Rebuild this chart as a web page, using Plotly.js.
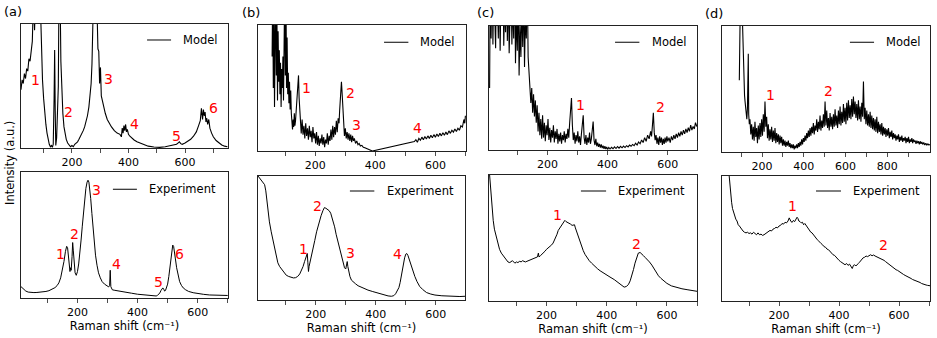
<!DOCTYPE html>
<html><head><meta charset="utf-8">
<script src="https://cdn.plot.ly/plotly-3.0.1.min.js"></script>
<style>html,body{margin:0;padding:0;background:#fff}#chart{width:937px;height:338px}</style>
</head><body><div id="chart"></div>
<script>
// ---------------- data (Raman shift in cm^-1, normalised intensity) ----------------
const aModelX = [20,24,28,32,36,40,44,48,52,56,60,64,68,72,76,80,84,88,92,96,100,104,108,112,116,120,124,128,131,134,137,139,141,143,146,149,152,155,158,161,164,168,172,176,180,185,190,195,200,205,210,215,220,225,230,235,240,245,250,255,260,265,268,271,274,277,280,283,286,289,292,295,298,301,304,308,312,318,325,332,340,350,360,370,375,378,381,384,387,390,393,396,400,405,412,420,430,440,455,470,490,510,530,550,560,570,575,580,585,590,600,610,620,630,640,648,654,658,662,665,668,671,674,677,680,684,688,694,700,710,720,730,740,750];
const aModelY = [0.47,0.55,0.52,0.60,0.56,0.64,0.62,0.72,0.70,0.80,0.86,1.2,0.95,1.3,1.1,1.4,1.3,1.2,0.72,0.55,0.40,0.28,0.19,0.12,0.07,0.03,0.01,0.02,0.005,0.03,0.4,0.79,0.3,0.02,0.08,0.35,0.5,1.5,1.3,0.7,0.45,0.28,0.17,0.11,0.07,0.04,0.02,0.01,0.02,0.01,0.03,0.04,0.05,0.07,0.09,0.11,0.14,0.17,0.21,0.26,0.33,0.43,0.52,0.68,0.9,1.3,1.6,1.2,1.4,1.1,0.8,0.78,0.52,0.65,0.42,0.38,0.33,0.28,0.23,0.2,0.17,0.14,0.12,0.11,0.09,0.16,0.12,0.18,0.14,0.19,0.13,0.15,0.11,0.095,0.08,0.065,0.05,0.04,0.025,0.015,0.008,0.005,0.01,0.02,0.025,0.03,0.04,0.05,0.035,0.03,0.04,0.055,0.07,0.095,0.13,0.18,0.22,0.32,0.23,0.31,0.26,0.29,0.21,0.24,0.19,0.23,0.16,0.12,0.09,0.06,0.04,0.025,0.015,0.01];

const aExpX = [12,20,28,36,45,55,65,75,85,95,105,115,125,132,138,144,150,155,160,164,167,170,173,175,177,179,182,184,186,189,192,196,200,204,208,212,216,220,224,228,232,235,238,241,244,248,252,256,260,265,270,276,282,290,298,304,307,309,311,313,316,322,330,345,360,380,400,420,440,455,462,466,470,474,478,481,484,487,490,493,496,500,504,508,511,514,517,520,523,526,530,535,540,546,552,560,570,585,600,620,640,660,680,700];
const aExpY = [0.09,0.07,0.055,0.047,0.044,0.043,0.044,0.045,0.048,0.052,0.058,0.067,0.082,0.098,0.12,0.16,0.22,0.29,0.37,0.41,0.40,0.33,0.26,0.21,0.24,0.22,0.33,0.44,0.38,0.25,0.2,0.18,0.21,0.27,0.35,0.46,0.57,0.68,0.78,0.87,0.92,0.935,0.92,0.87,0.79,0.67,0.54,0.43,0.34,0.26,0.2,0.16,0.13,0.11,0.095,0.088,0.1,0.22,0.09,0.07,0.065,0.062,0.058,0.05,0.045,0.038,0.03,0.024,0.018,0.015,0.016,0.02,0.028,0.04,0.06,0.075,0.08,0.07,0.055,0.06,0.08,0.11,0.17,0.25,0.33,0.39,0.42,0.41,0.37,0.31,0.24,0.17,0.13,0.1,0.08,0.065,0.052,0.042,0.035,0.029,0.024,0.022,0.02,0.02];

const bModelX = [56,58,60,62,64,66,68,70,72,74,76,78,80,82,84,86,88,90,92,94,96,98,100,102,104,106,108,110,112,114,116,118,120,122,124,126,128,130,132,134,136,138,140,142,144,146,148,150,153,156,159,162,165,168,171,174,177,180,183,186,189,192,195,198,201,204,207,210,213,216,219,222,225,228,231,234,237,240,243,246,249,252,255,258,261,264,267,270,273,276,279,281,283,285,287,289,291,293,295,297,300,303,306,309,312,315,318,321,324,327,330,334,338,342,346,350,355,360,365,370,375,380,385,390,530,535,540,545,550,555,560,565,570,575,580,585,590,595,600,605,610,615,620,625,630,635,640,645,650,655,660,665,670,675,680,685,690,695,698,700];
const bModelY = [0.75,1.3,0.5,1.2,0.35,0.9,1.4,0.6,1.1,0.4,0.95,0.55,0.8,0.45,0.7,0.35,0.65,0.5,0.75,0.4,0.85,1.3,0.6,1.4,0.5,0.9,0.45,0.62,0.38,0.55,0.33,0.48,0.3,0.22,0.17,0.25,0.19,0.3,0.2,0.24,0.33,0.4,0.48,0.52,0.6,0.42,0.3,0.22,0.14,0.25,0.13,0.2,0.1,0.22,0.12,0.18,0.09,0.2,0.11,0.16,0.07,0.19,0.1,0.14,0.06,0.15,0.05,0.12,0.04,0.1,0.06,0.13,0.05,0.11,0.03,0.09,0.06,0.14,0.05,0.12,0.08,0.17,0.09,0.2,0.11,0.19,0.13,0.24,0.15,0.26,0.22,0.32,0.42,0.5,0.55,0.47,0.38,0.26,0.17,0.12,0.18,0.1,0.15,0.09,0.14,0.08,0.13,0.07,0.12,0.08,0.1,0.06,0.08,0.05,0.06,0.04,0.045,0.03,0.025,0.02,0.015,0.01,0.005,0.0,0.075,0.09,0.07,0.1,0.085,0.11,0.09,0.115,0.095,0.12,0.1,0.125,0.105,0.13,0.11,0.135,0.115,0.14,0.12,0.145,0.125,0.15,0.13,0.16,0.14,0.165,0.15,0.175,0.155,0.18,0.165,0.2,0.19,0.25,0.22,0.28];

const bExpX = [8,14,19,25,30,34,37,41,46,52,58,63,68,74,80,86,94,102,110,119,126,133,140,147,153,158,163,167,170,172,174,176,178,182,187,192,197,203,208,213,218,224,229,234,240,245,250,254,258,263,268,274,280,286,291,296,300,303,305,307,310,314,319,325,333,341,350,360,374,390,408,425,441,452,460,466,472,477,481,486,491,496,500,503,507,512,518,524,530,537,546,556,569,583,597,620,650,680,697];
const bExpY = [1.0,0.98,0.965,0.95,0.93,0.88,0.82,0.72,0.63,0.55,0.48,0.42,0.36,0.3,0.27,0.25,0.225,0.2,0.19,0.18,0.178,0.18,0.19,0.21,0.24,0.27,0.31,0.34,0.36,0.375,0.3,0.23,0.27,0.31,0.36,0.42,0.48,0.55,0.6,0.64,0.68,0.72,0.745,0.74,0.73,0.72,0.7,0.67,0.63,0.59,0.53,0.47,0.42,0.36,0.3,0.26,0.25,0.28,0.31,0.27,0.22,0.19,0.16,0.145,0.13,0.115,0.105,0.095,0.08,0.068,0.055,0.042,0.033,0.03,0.035,0.05,0.075,0.1,0.14,0.21,0.28,0.34,0.37,0.375,0.36,0.32,0.27,0.23,0.19,0.15,0.11,0.085,0.06,0.048,0.04,0.034,0.03,0.028,0.03];

const cModelX = [8,10,13,16,19,22,25,28,31,34,37,40,43,46,49,52,55,58,61,64,67,70,73,76,79,82,85,88,91,94,97,100,103,106,109,112,115,118,121,124,127,130,133,136,139,142,145,148,151,154,157,160,163,166,169,172,175,178,181,184,187,190,193,196,199,202,205,208,211,214,217,220,223,226,229,232,235,238,241,244,247,250,253,256,259,262,265,268,271,274,277,280,283,286,289,292,295,298,301,304,307,310,313,316,319,322,325,328,331,334,337,340,343,346,349,352,355,358,361,364,367,370,373,376,379,382,385,388,391,394,397,400,404,408,413,418,423,428,433,438,443,448,453,458,463,468,473,478,483,488,493,498,503,508,513,518,523,528,533,538,543,546,549,552,555,558,561,564,567,570,573,576,579,582,585,588,591,594,597,600,604,608,612,616,620,624,628,632,636,640,644,648,652,656,660,664,668,672,676,680,684,688,692,696,700];
const cModelY = [0.5,1.3,0.9,1.5,0.85,1.4,1.1,0.82,1.5,1.2,0.9,1.4,0.8,1.3,1.0,1.5,0.84,1.2,0.95,1.4,0.88,1.3,0.78,1.1,1.4,0.85,1.2,0.9,1.5,0.7,1.1,0.8,1.3,0.6,1.0,0.75,1.2,0.83,1.3,0.67,1.1,0.9,1.4,0.75,0.62,0.55,0.38,0.5,0.3,0.45,0.27,0.4,0.22,0.36,0.15,0.3,0.12,0.25,0.09,0.28,0.1,0.22,0.07,0.2,0.12,0.25,0.08,0.18,0.06,0.16,0.1,0.2,0.06,0.15,0.09,0.17,0.05,0.13,0.07,0.14,0.05,0.12,0.08,0.15,0.06,0.13,0.09,0.17,0.1,0.22,0.3,0.42,0.2,0.08,0.14,0.05,0.12,0.07,0.15,0.06,0.11,0.04,0.13,0.2,0.28,0.1,0.05,0.12,0.04,0.1,0.06,0.14,0.05,0.09,0.16,0.23,0.08,0.04,0.09,0.03,0.06,0.025,0.05,0.02,0.045,0.015,0.035,0.01,0.03,0.008,0.025,0.005,0.02,0.008,0.022,0.01,0.025,0.012,0.028,0.015,0.03,0.018,0.032,0.02,0.035,0.025,0.04,0.03,0.045,0.035,0.055,0.04,0.065,0.05,0.08,0.06,0.1,0.07,0.12,0.09,0.15,0.11,0.2,0.3,0.14,0.08,0.12,0.05,0.1,0.04,0.11,0.06,0.1,0.04,0.09,0.05,0.1,0.06,0.11,0.07,0.1,0.06,0.11,0.08,0.12,0.09,0.13,0.1,0.14,0.11,0.15,0.12,0.16,0.13,0.17,0.14,0.18,0.15,0.2,0.16,0.19,0.17,0.22,0.19,0.21];

const cExpX = [11,14,17,20,23,27,33,38,44,50,56,62,67,72,78,83,87,91,95,100,105,111,116,120,125,130,135,140,145,150,155,160,165,170,173,175,180,185,190,195,200,206,211,217,222,226,231,235,239,244,250,255,258,261,265,270,275,280,285,290,293,296,300,305,311,317,322,328,335,342,350,360,370,378,390,400,411,425,439,450,458,465,472,478,484,489,494,500,505,511,517,522,528,535,542,550,558,565,572,580,590,600,615,633,650,667,685,700];
const cExpY = [1.0,0.9,0.81,0.72,0.64,0.57,0.51,0.46,0.41,0.38,0.36,0.335,0.32,0.31,0.305,0.31,0.32,0.31,0.3,0.31,0.305,0.315,0.31,0.32,0.315,0.31,0.315,0.32,0.325,0.33,0.335,0.34,0.345,0.35,0.38,0.35,0.36,0.37,0.385,0.395,0.41,0.42,0.43,0.445,0.46,0.48,0.51,0.53,0.56,0.58,0.6,0.62,0.635,0.64,0.63,0.625,0.615,0.61,0.6,0.6,0.605,0.58,0.55,0.52,0.48,0.44,0.4,0.37,0.34,0.32,0.3,0.275,0.255,0.24,0.22,0.205,0.19,0.17,0.146,0.125,0.11,0.115,0.13,0.16,0.2,0.25,0.3,0.35,0.38,0.385,0.375,0.36,0.345,0.33,0.31,0.285,0.25,0.22,0.2,0.18,0.16,0.14,0.12,0.106,0.097,0.09,0.083,0.077];

const dModelX = [91,93,96,99,102,105,108,110,113,116,118,121,124,127,130,132,134,136,139,142,146,150,154,158,162,166,170,174,178,182,186,190,194,198,202,206,210,214,218,222,226,230,234,238,242,246,250,254,258,262,266,270,274,278,282,286,290,294,298,302,306,310,314,318,322,326,330,334,338,342,346,350,354,358,362,366,370,374,378,382,386,390,394,398,402,406,410,414,418,422,426,430,434,438,442,446,450,454,458,462,466,470,474,478,482,486,490,494,498,502,506,510,514,518,522,526,530,534,538,542,546,550,554,558,562,566,570,574,578,582,586,590,594,598,602,606,610,614,618,622,626,630,634,638,642,646,650,654,658,662,666,670,674,678,682,686,690,694,698,702,706,710,714,718,722,726,730,734,738,742,746,750,754,758,762,766,770,774,778,782,786,790,794,798,802,806,810,814,818,822,826,830,834,838,842,846,850,854,858,862,866,870,874,878,882,886,890,894,898,902,906,910,914,918,922,926,930,934,938,942,946,950,954,958,962,966,970,975,980,985,990,995,1000,1005];
const dModelY = [0.57,1.5,1.2,1.6,1.3,1.1,0.85,0.68,0.55,0.45,0.41,0.33,0.3,0.26,0.35,0.5,0.78,0.3,0.22,0.26,0.14,0.22,0.1,0.2,0.09,0.24,0.12,0.19,0.07,0.21,0.1,0.23,0.12,0.26,0.13,0.3,0.16,0.4,0.2,0.28,0.11,0.22,0.09,0.18,0.1,0.2,0.08,0.17,0.09,0.19,0.07,0.15,0.08,0.14,0.06,0.13,0.07,0.12,0.05,0.1,0.05,0.09,0.04,0.08,0.05,0.09,0.04,0.07,0.03,0.06,0.03,0.06,0.02,0.05,0.03,0.06,0.03,0.07,0.04,0.08,0.05,0.1,0.06,0.11,0.08,0.13,0.09,0.15,0.11,0.17,0.12,0.19,0.13,0.2,0.15,0.23,0.14,0.21,0.17,0.26,0.16,0.24,0.18,0.29,0.17,0.25,0.19,0.3,0.2,0.4,0.21,0.33,0.19,0.27,0.17,0.31,0.2,0.28,0.18,0.3,0.2,0.34,0.21,0.29,0.19,0.33,0.22,0.36,0.21,0.32,0.23,0.38,0.24,0.35,0.22,0.39,0.25,0.41,0.27,0.37,0.26,0.42,0.28,0.44,0.3,0.4,0.27,0.38,0.25,0.41,0.26,0.36,0.24,0.39,0.28,0.56,0.26,0.35,0.22,0.33,0.21,0.3,0.2,0.32,0.19,0.29,0.18,0.27,0.17,0.26,0.16,0.28,0.15,0.24,0.16,0.22,0.14,0.23,0.13,0.2,0.14,0.19,0.12,0.18,0.13,0.19,0.11,0.16,0.12,0.17,0.1,0.15,0.11,0.14,0.09,0.13,0.1,0.14,0.08,0.12,0.09,0.13,0.08,0.11,0.09,0.12,0.07,0.11,0.08,0.12,0.07,0.1,0.08,0.11,0.07,0.1,0.08,0.09,0.065,0.09,0.07,0.085,0.06,0.085,0.065,0.08,0.06,0.075,0.055,0.07,0.055,0.065,0.055,0.06];

const dExpX = [34,36,39,42,45,48,52,56,60,64,68,72,76,80,85,90,95,100,105,110,115,120,125,130,135,140,145,150,155,160,165,170,175,180,185,190,195,200,205,210,215,220,225,230,234,237,240,244,248,252,256,260,263,266,270,274,278,282,286,290,294,298,302,306,310,314,318,322,326,330,335,340,345,350,355,360,365,370,375,380,385,390,395,400,405,410,415,420,425,430,435,440,444,448,452,456,460,464,468,472,476,480,485,490,495,500,505,510,515,520,525,530,535,540,545,550,555,560,565,570,575,580,585,590,595,600,605,610,615,620,625,630,635,640,645,650,655,660,665,670,675,680,685,690,695,700,703];
const dExpY = [1.0,0.93,0.85,0.79,0.74,0.71,0.68,0.655,0.64,0.61,0.6,0.585,0.575,0.56,0.55,0.545,0.55,0.54,0.545,0.535,0.55,0.54,0.53,0.545,0.53,0.535,0.525,0.53,0.54,0.545,0.555,0.565,0.56,0.575,0.58,0.59,0.585,0.6,0.605,0.62,0.615,0.63,0.625,0.64,0.665,0.64,0.635,0.63,0.645,0.635,0.655,0.67,0.66,0.64,0.635,0.625,0.63,0.61,0.62,0.605,0.59,0.58,0.565,0.55,0.545,0.53,0.52,0.505,0.495,0.485,0.47,0.46,0.45,0.435,0.43,0.415,0.41,0.395,0.385,0.37,0.365,0.35,0.34,0.325,0.315,0.305,0.3,0.29,0.3,0.285,0.295,0.28,0.26,0.285,0.29,0.28,0.295,0.3,0.31,0.325,0.335,0.345,0.35,0.36,0.355,0.365,0.37,0.362,0.368,0.36,0.355,0.35,0.345,0.34,0.33,0.325,0.315,0.305,0.3,0.29,0.28,0.27,0.262,0.25,0.245,0.235,0.228,0.22,0.212,0.205,0.2,0.19,0.188,0.18,0.172,0.168,0.162,0.158,0.15,0.148,0.14,0.138,0.132,0.128,0.125,0.12,0.122];

const legendNames = ['Model','Experiment'];
const panelLetters = ['(a)','(b)','(c)','(d)'];
const xTitleText = 'Raman shift (cm⁻¹)';
const yTitleText = 'Intensity (a.u.)';
const tickVals = [200,400,600];
const minorVals = [100,300,500,700];
const tickValsWide = [200,400,600,800];
const minorValsWide = [100,300,500,700,900];

// peak labels [x, relative height, text]
const peakLabels = [
  [[71,0.55,'1'],[188,0.29,'2'],[329,0.56,'3'],[423,0.19,'4'],[570,0.10,'5'],[700,0.32,'6']],
  [[142,0.35,'1'],[189,0.51,'2'],[262,0.86,'3'],[331,0.27,'4'],[468,0.13,'5'],[541,0.35,'6']],
  [[169,0.50,'1'],[317,0.46,'2'],[336,0.21,'3'],[539,0.18,'4']],
  [[158,0.41,'1'],[206,0.76,'2'],[317,0.38,'3'],[471,0.375,'4']],
  [[311,0.36,'1'],[577,0.35,'2']],
  [[236,0.68,'1'],[500,0.45,'2']],
  [[242,0.45,'1'],[518,0.485,'2']],
  [[244,0.76,'1'],[548,0.45,'2']]
];

// ---------------- layout ----------------
const W = 937, H = 338;
const series = [
  {x:aModelX, y:aModelY}, {x:aExpX, y:aExpY},
  {x:bModelX, y:bModelY}, {x:bExpX, y:bExpY},
  {x:cModelX, y:cModelY}, {x:cExpX, y:cExpY},
  {x:dModelX, y:dModelY}, {x:dExpX, y:dExpY}
];
// pixel boxes [left, right, top, bottom]
const boxes = [
  [21,228,24,148],[21,228,172,298],
  [258,466,25,151],[258,465,176,300],
  [489,697,26,150],[489,697,175,301],
  [722,930,26,152],[722,930,176,301]
];
const xRanges = [[20,752],[12,701],[9,702],[8,697],[6,697],[9,700],[8,1005],[10,703]];
const legendPos = [
  [0.609,0.725,0.871,0.773],[0.444,0.56,0.863,0.61],
  [0.606,0.723,0.863,0.771],[0.444,0.562,0.879,0.613],
  [0.606,0.723,0.869,0.774],[0.442,0.563,0.873,0.611],
  [0.615,0.731,0.871,0.779],[0.452,0.572,0.88,0.62]
];

const FONT = 'DejaVu Sans, sans-serif';
const traces = [];
const layout = {
  width: W, height: H,
  margin: {l:0, r:0, t:0, b:0},
  paper_bgcolor: '#fff', plot_bgcolor: '#fff',
  font: {family: FONT, size: 11, color: '#000'},
  showlegend: false,
  shapes: [], annotations: []
};

series.forEach((s, i) => {
  const k = i + 1;
  const xa = k === 1 ? 'x' : 'x' + k;
  const ya = k === 1 ? 'y' : 'y' + k;
  const b = boxes[i];
  const isBottom = (i % 2 === 1);
  traces.push({type:'scatter', mode:'lines', x:s.x, y:s.y, xaxis:xa, yaxis:ya,
    name: legendNames[i % 2], line:{color:'#000', width: isBottom ? 1 : 1.1}, hoverinfo:'skip'});
  const wide = (i === 6);
  const xax = {
    domain: [b[0]/W, b[1]/W], anchor: ya, range: xRanges[i],
    showline: true, mirror: true, linecolor: '#222', linewidth: 1,
    ticks: 'outside', ticklen: 3.5, tickwidth: 0.8, tickcolor: '#222',
    tickmode: 'array', tickvals: wide ? tickValsWide : tickVals,
    minor: {tickmode: 'array', tickvals: wide ? minorValsWide : minorVals,
            ticks: 'outside', ticklen: 3.5, tickwidth: 0.8, tickcolor: '#222', showgrid: false},
    tickfont: {size: 11, family: FONT, color: '#000'},
    showgrid: false, zeroline: false, fixedrange: true
  };
  if (isBottom) {
    xax.title = {text: xTitleText, font: {size: 11.5, family: FONT, color:'#000'}, standoff: 1};
  }
  layout['xaxis' + (k === 1 ? '' : k)] = xax;
  layout['yaxis' + (k === 1 ? '' : k)] = {
    domain: [1 - b[3]/H, 1 - b[2]/H], anchor: xa, range: [0, 1],
    showline: true, mirror: true, linecolor: '#222', linewidth: 1,
    ticks: '', showticklabels: false, showgrid: false, zeroline: false, fixedrange: true
  };
  const lp = legendPos[i];
  layout.shapes.push({type:'line', xref: xa + ' domain', yref: ya + ' domain',
    x0: lp[0], x1: lp[1], y0: lp[2], y1: lp[2], line:{color:'#000', width:1}});
  layout.annotations.push({xref: xa + ' domain', yref: ya + ' domain', x: lp[3], y: lp[2],
    xanchor:'left', yanchor:'middle', showarrow:false, text: legendNames[i % 2],
    font:{size:11.5, family:FONT, color:'#000'}});
  peakLabels[i].forEach(p => {
    layout.annotations.push({xref: xa, yref: ya, x: p[0], y: p[1], text: p[2],
      showarrow:false, xanchor:'center', yanchor:'middle',
      font:{size:14, family:FONT, color:'#ff0000'}});
  });
});

// panel letters
const letterPos = [[13,12],[251,13],[486,13],[714,14]];
panelLetters.forEach((t, j) => {
  layout.annotations.push({xref:'paper', yref:'paper', x: letterPos[j][0]/W, y: 1 - letterPos[j][1]/H,
    text: t, showarrow:false, xanchor:'center', yanchor:'middle', font:{size:13, family:FONT, color:'#000'}});
});
// shared y label
layout.annotations.push({xref:'paper', yref:'paper', x: 10/W, y: 1 - 163/H, text: yTitleText,
  textangle:-90, showarrow:false, xanchor:'center', yanchor:'middle', font:{size:11.5, family:FONT, color:'#000'}});

Plotly.newPlot('chart', traces, layout, {staticPlot:true, displayModeBar:false});
</script>
</body></html>
